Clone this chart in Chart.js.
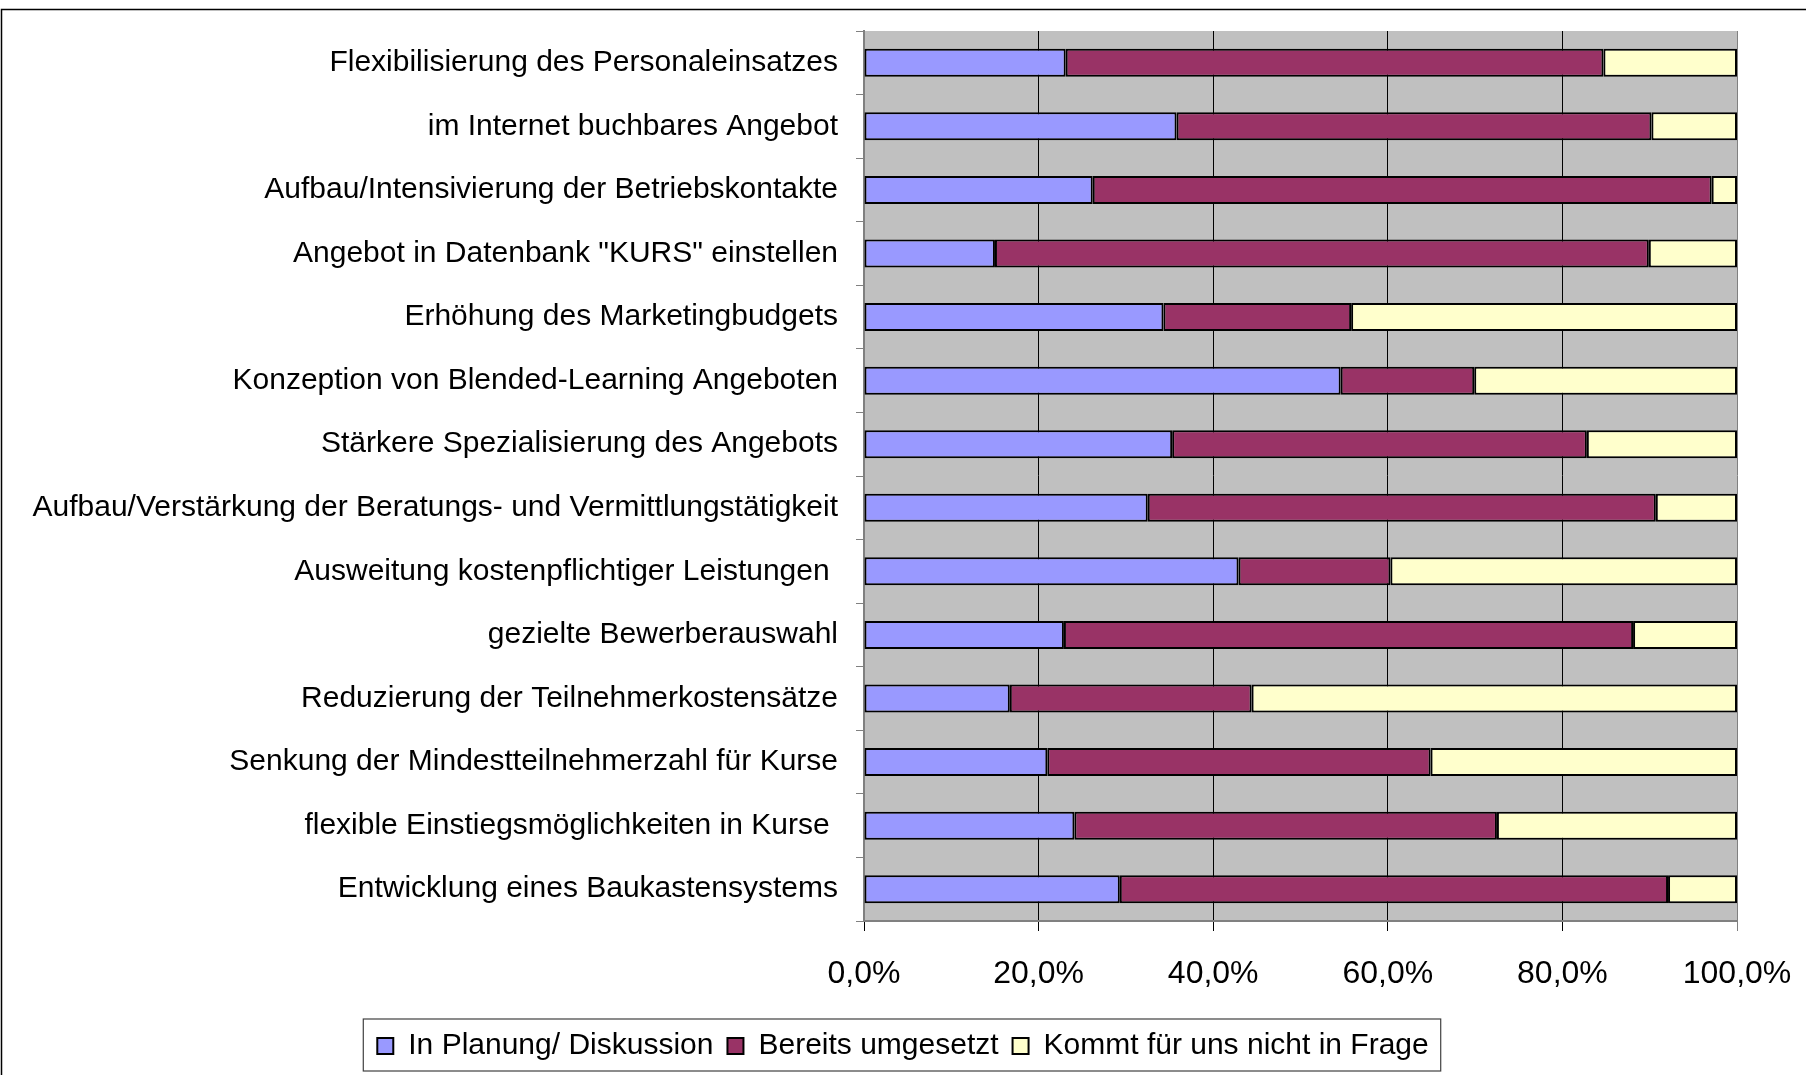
<!DOCTYPE html>
<html lang="de">
<head>
<meta charset="utf-8">
<title>Maßnahmen</title>
<script src="https://cdn.jsdelivr.net/npm/chart.js@4/dist/chart.umd.min.js"></script>
<style>
  html, body { margin: 0; padding: 0; background: #fff; }
  canvas { display: block; }
</style>
</head>
<body>
<canvas id="chart" width="1806" height="1075"></canvas>
<script>
const categories = [
  'Flexibilisierung des Personaleinsatzes',
  'im Internet buchbares Angebot',
  'Aufbau/Intensivierung der Betriebskontakte',
  'Angebot in Datenbank "KURS" einstellen',
  'Erhöhung des Marketingbudgets',
  'Konzeption von Blended-Learning Angeboten',
  'Stärkere Spezialisierung des Angebots',
  'Aufbau/Verstärkung der Beratungs- und Vermittlungstätigkeit',
  'Ausweitung kostenpflichtiger Leistungen ',
  'gezielte Bewerberauswahl',
  'Reduzierung der Teilnehmerkostensätze',
  'Senkung der Mindestteilnehmerzahl für Kurse',
  'flexible Einstiegsmöglichkeiten in Kurse ',
  'Entwicklung eines Baukastensystems'
];

const seriesNames = ['In Planung/ Diskussion', 'Bereits umgesetzt', 'Kommt für uns nicht in Frage'];

// percent of answers per row
const inPlanung    = [23.1, 35.8, 26.2, 15.0, 34.3, 54.6, 35.3, 32.5, 42.9, 22.9, 16.7, 21.0, 24.1, 29.3];
const umgesetzt    = [61.6, 54.4, 70.9, 74.9, 21.5, 15.3, 47.5, 58.2, 17.4, 65.2, 27.7, 43.9, 48.4, 62.8];
const nichtInFrage = [15.3,  9.8,  2.9, 10.1, 44.2, 30.1, 17.2,  9.3, 39.7, 11.9, 55.6, 35.1, 27.5,  7.9];

const colors = ['#9999FF', '#993366', '#FFFFCC'];

const FONT = '"Liberation Sans", Arial, sans-serif';

const plotBackground = {
  id: 'plotBackground',
  beforeDraw(chart) {
    const { ctx, chartArea } = chart;
    ctx.save();
    ctx.fillStyle = '#fff';
    ctx.fillRect(0, 0, chart.width, chart.height);
    ctx.fillStyle = '#C0C0C0';
    ctx.fillRect(chartArea.left, chartArea.top, chartArea.right - chartArea.left, chartArea.bottom - chartArea.top);
    ctx.restore();
  }
};

const frames = {
  id: 'frames',
  afterDraw(chart) {
    const { ctx } = chart;
    ctx.save();
    ctx.strokeStyle = '#000';
    ctx.lineWidth = 1.5;
    // outer chart frame (runs off the right and bottom edge)
    ctx.strokeRect(1.5, 9.5, chart.width + 10, chart.height + 10);

    // box round the legend
    const legend = chart.legend;
    const boxes = legend.legendHitBoxes || [];
    if (boxes.length) {
      const left = Math.min(...boxes.map(b => b.left)) - 14;
      const right = Math.max(...boxes.map(b => b.left + b.width)) + 12;
      ctx.strokeStyle = '#404040';
      ctx.lineWidth = 1.2;
      ctx.strokeRect(left, legend.top + 2, right - left, legend.bottom - legend.top - 2);
    }
    ctx.restore();
  }
};

new Chart(document.getElementById('chart').getContext('2d'), {
  type: 'bar',
  data: {
    labels: categories,
    datasets: [
      { label: seriesNames[0], data: inPlanung, backgroundColor: colors[0] },
      { label: seriesNames[1], data: umgesetzt, backgroundColor: colors[1] },
      { label: seriesNames[2], data: nichtInFrage, backgroundColor: colors[2] }
    ]
  },
  options: {
    indexAxis: 'y',
    responsive: false,
    animation: false,
    layout: { padding: { top: 31, left: 0, right: 0, bottom: 4 } },
    datasets: {
      bar: {
        borderColor: '#000',
        borderWidth: 2,
        borderSkipped: false,
        barPercentage: 0.44,
        categoryPercentage: 1
      }
    },
    scales: {
      x: {
        stacked: true,
        min: 0,
        max: 100,
        ticks: {
          stepSize: 20,
          color: '#000',
          padding: 24,
          font: { family: FONT, size: 32 },
          callback: v => v.toFixed(1).replace('.', ',') + '%'
        },
        grid: {
          color: c => (c.tick && c.tick.value === 100 ? '#808080' : '#000'),
          lineWidth: 1,
          tickLength: 10
        },
        border: { color: '#808080', width: 2 },
        afterFit(scale) {
          scale.height = 96;
          scale.paddingRight = 69;
        }
      },
      y: {
        stacked: true,
        ticks: {
          color: '#000',
          padding: 18,
          autoSkip: false,
          font: { family: FONT, size: 30 }
        },
        grid: {
          drawOnChartArea: false,
          tickLength: 8,
          color: '#808080'
        },
        border: { color: '#808080', width: 2 },
        afterFit(scale) {
          scale.width = 864;
          scale.paddingTop = 0;
          scale.paddingBottom = 0;
        }
      }
    },
    plugins: {
      legend: {
        position: 'bottom',
        labels: {
          color: '#000',
          boxWidth: 16,
          boxHeight: 16,
          padding: 14,
          font: { family: FONT, size: 30 }
        }
      },
      tooltip: { enabled: false }
    }
  },
  plugins: [plotBackground, frames]
});
</script>
</body>
</html>
